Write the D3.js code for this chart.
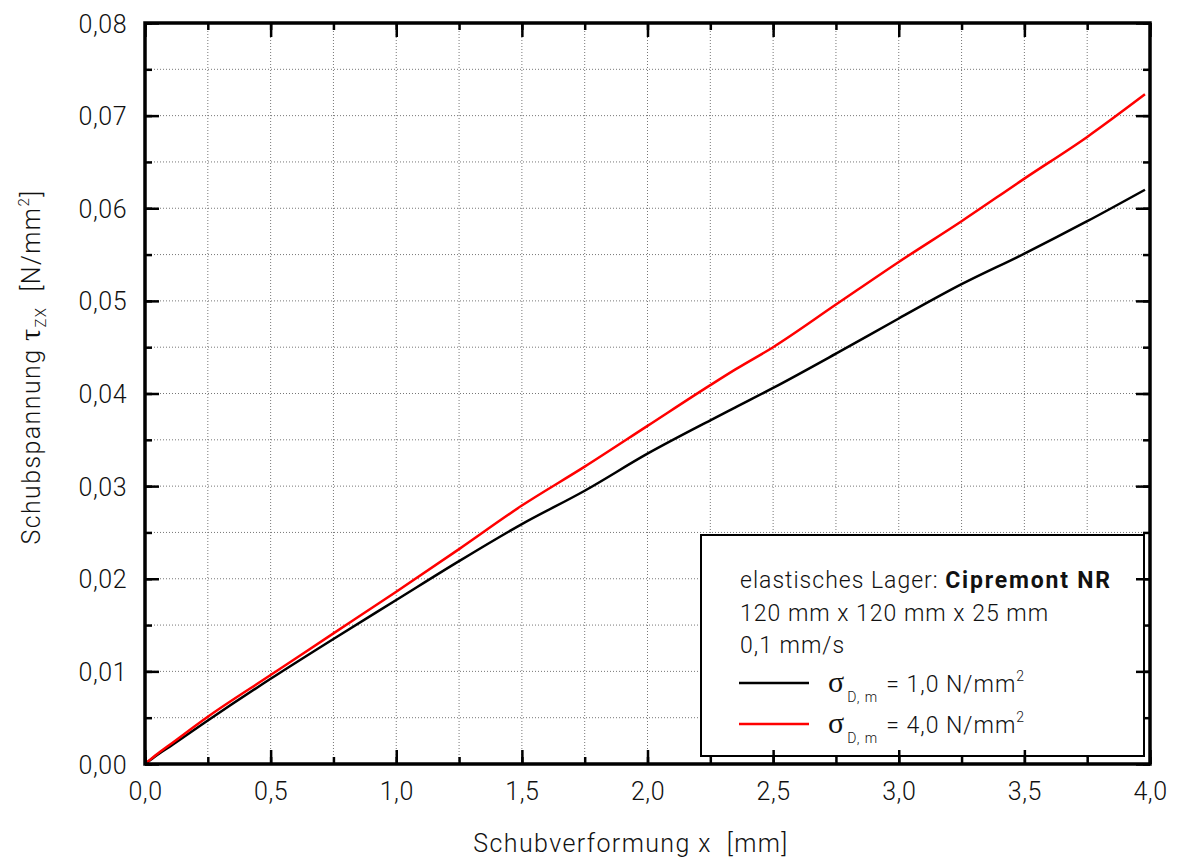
<!DOCTYPE html>
<html>
<head>
<meta charset="utf-8">
<script src="https://cdn.jsdelivr.net/npm/d3@7"></script>
<style>
	body { margin: 0; background: #fff; }
	svg { display: block; }
	text { white-space: pre; }
	.tick-label { font-family: Roboto, "Liberation Sans", Arial, sans-serif; font-weight: 300; font-size: 25px; fill: #111; letter-spacing: 0.5px; }
	.title { font-family: Roboto, "Liberation Sans", Arial, sans-serif; font-weight: 300; font-size: 25px; fill: #111; letter-spacing: 1.4px; }
	.legend-text { font-family: Roboto, "Liberation Sans", Arial, sans-serif; font-weight: 300; font-size: 23px; fill: #111; letter-spacing: 1px; }
	.grid line { stroke: #777; stroke-width: 1; stroke-dasharray: 1,2; }
</style>
</head>
<body>
<svg id="chart"></svg>
<script>
// Schubverformung x [mm]
const displacement = [0, 0.05, 0.1, 0.25, 0.5, 0.75, 1.0, 1.25, 1.5, 1.75, 2.0, 2.25, 2.35, 2.5, 2.75, 3.0, 3.25, 3.5, 3.75, 3.98];
// Schubspannung tau_zx [N/mm2], sigma = 1,0 N/mm2
const stressSigma1 = [0, 0.0010, 0.0019, 0.0047, 0.0092, 0.0135, 0.0177, 0.0219, 0.0259, 0.0295, 0.0335, 0.0371, 0.0385, 0.0406, 0.0443, 0.0481, 0.0518, 0.0551, 0.0586, 0.0620];
// sigma = 4,0 N/mm2
const stressSigma4 = [0, 0.0011, 0.0021, 0.0051, 0.0096, 0.0141, 0.0186, 0.0232, 0.0279, 0.0321, 0.0365, 0.0409, 0.0426, 0.0450, 0.0496, 0.0542, 0.0586, 0.0632, 0.0677, 0.0723];

const xTicks = [0, 0.5, 1.0, 1.5, 2.0, 2.5, 3.0, 3.5, 4.0];
const yTicks = [0, 0.01, 0.02, 0.03, 0.04, 0.05, 0.06, 0.07, 0.08];

const series = [
	{ name: "1,0", values: stressSigma1, color: "#000" },
	{ name: "4,0", values: stressSigma4, color: "#ff0000" }
];

const width = 1180;
const height = 861;
const margin = { left: 145, right: 30, top: 23, bottom: 97 };

const svg = d3.select("#chart")
	.attr("width", width)
	.attr("height", height);

const x = d3.scaleLinear().domain([0, 4]).range([margin.left, width - margin.right]);
const y = d3.scaleLinear().domain([0, 0.08]).range([height - margin.bottom, margin.top]);

const comma = (digits) => (v) => d3.format(`.${digits}f`)(v).replace(".", ",");

// grid
const xGrid = d3.range(1, 16).map((i) => i * 0.25);
const yGrid = d3.range(1, 16).map((i) => i * 0.005);
const grid = svg.append("g").attr("class", "grid");
grid.selectAll(".gx").data(xGrid).enter().append("line")
	.attr("x1", (d) => x(d)).attr("x2", (d) => x(d))
	.attr("y1", y(0)).attr("y2", y(0.08));
grid.selectAll(".gy").data(yGrid).enter().append("line")
	.attr("y1", (d) => y(d)).attr("y2", (d) => y(d))
	.attr("x1", x(0)).attr("x2", x(4));

// curves
const line = d3.line()
	.x((d, i) => x(displacement[i]))
	.y((d) => y(d))
	.curve(d3.curveMonotoneX);
svg.selectAll(".curve").data(series).enter().append("path")
	.attr("class", "curve")
	.attr("d", (d) => line(d.values))
	.attr("fill", "none")
	.attr("stroke", (d) => d.color)
	.attr("stroke-width", 2.5)
	.attr("stroke-linejoin", "round");

// legend box
const lg = svg.append("g");
lg.append("rect")
	.attr("x", 701).attr("y", 535)
	.attr("width", 443).attr("height", 221)
	.attr("fill", "#fff").attr("stroke", "#000").attr("stroke-width", 2);

// axes: ticks inside on all four sides
const minorX = d3.range(0, 17).map((i) => i * 0.25);
const minorY = d3.range(0, 17).map((i) => i * 0.005);

function drawAxis(g, axisFn, scale, major, minor, showLabels, fmt) {
	g.call(axisFn(scale).tickValues(minor).tickSize(-7).tickFormat(""))
		.call((s) => s.select(".domain").remove());
	g.selectAll("line").attr("stroke", "#000").attr("stroke-width", 2.5);
	const gm = g.append("g");
	gm.call(axisFn(scale).tickValues(major).tickSize(-14).tickSizeOuter(0)
		.tickFormat(showLabels ? fmt : ""))
		.call((s) => s.select(".domain").remove());
	gm.selectAll("line").attr("stroke", "#000").attr("stroke-width", 2.5);
	gm.selectAll("text").attr("class", "tick-label").attr("font-size", null).attr("font-family", null).attr("fill", null);
	return gm;
}

const gBottom = svg.append("g").attr("transform", `translate(0,${y(0)})`);
const bm = drawAxis(gBottom, d3.axisBottom, x, xTicks, minorX, true, comma(1));
bm.selectAll("text").attr("dy", null).attr("y", 36);

const gTop = svg.append("g").attr("transform", `translate(0,${y(0.08)})`);
drawAxis(gTop, d3.axisTop, x, xTicks, minorX, false);

const gLeft = svg.append("g").attr("transform", `translate(${x(0)},0)`);
const lm = drawAxis(gLeft, d3.axisLeft, y, yTicks, minorY, true, comma(2));
lm.selectAll("text").attr("x", -18).attr("dy", "0.36em");

const gRight = svg.append("g").attr("transform", `translate(${x(4)},0)`);
drawAxis(gRight, d3.axisRight, y, yTicks, minorY, false);

// frame
svg.append("rect")
	.attr("x", x(0)).attr("y", y(0.08))
	.attr("width", x(4) - x(0)).attr("height", y(0) - y(0.08))
	.attr("fill", "none").attr("stroke", "#000").attr("stroke-width", 3.5);

// axis titles
svg.append("text")
	.attr("class", "title")
	.attr("x", 631)
	.attr("y", 852)
	.attr("text-anchor", "middle")
	.text("Schubverformung x  [mm]");

const yt = svg.append("text")
	.attr("class", "title")
	.attr("transform", `translate(40, 367) rotate(-90)`)
	.attr("text-anchor", "middle");
yt.append("tspan").text("Schubspannung ");
yt.append("tspan").attr("font-family", "'Liberation Serif', serif").attr("font-size", 30).text("τ");
yt.append("tspan").attr("font-size", 15).attr("dy", 6).text("ZX");
yt.append("tspan").attr("dy", -6).text("  [N/mm");
yt.append("tspan").attr("font-size", 15).attr("dy", -11).text("2");
yt.append("tspan").attr("dy", 11).text("]");

// legend content
const lx = 740;
const t1 = lg.append("text").attr("class", "legend-text").attr("x", lx).attr("y", 588);
t1.append("tspan").text("elastisches Lager: ");
t1.append("tspan").attr("font-weight", "bold").attr("letter-spacing", "1.8px").text("Cipremont NR");
lg.append("text").attr("class", "legend-text").attr("x", lx).attr("y", 621).text("120 mm x 120 mm x 25 mm");
lg.append("text").attr("class", "legend-text").attr("x", lx).attr("y", 653).text("0,1 mm/s");

const entries = lg.selectAll(".entry").data(series).enter().append("g")
	.attr("class", "entry")
	.attr("transform", (d, i) => `translate(0, ${683 + i * 41})`);
entries.append("line")
	.attr("x1", lx - 1).attr("x2", 809)
	.attr("stroke", (d) => d.color).attr("stroke-width", 2.5);
const et = entries.append("text").attr("class", "legend-text").attr("x", 828).attr("y", 9);
et.append("tspan").attr("font-family", "'Liberation Serif', serif").attr("font-size", 30).text("σ");
et.append("tspan").attr("font-size", 14).attr("dy", 10).attr("dx", 2).text("D, m");
et.append("tspan").attr("dy", -10).attr("dx", 8).text((d) => `= ${d.name} N/mm`);
et.append("tspan").attr("font-size", 14).attr("dy", -11).text("2");
</script>
</body>
</html>
